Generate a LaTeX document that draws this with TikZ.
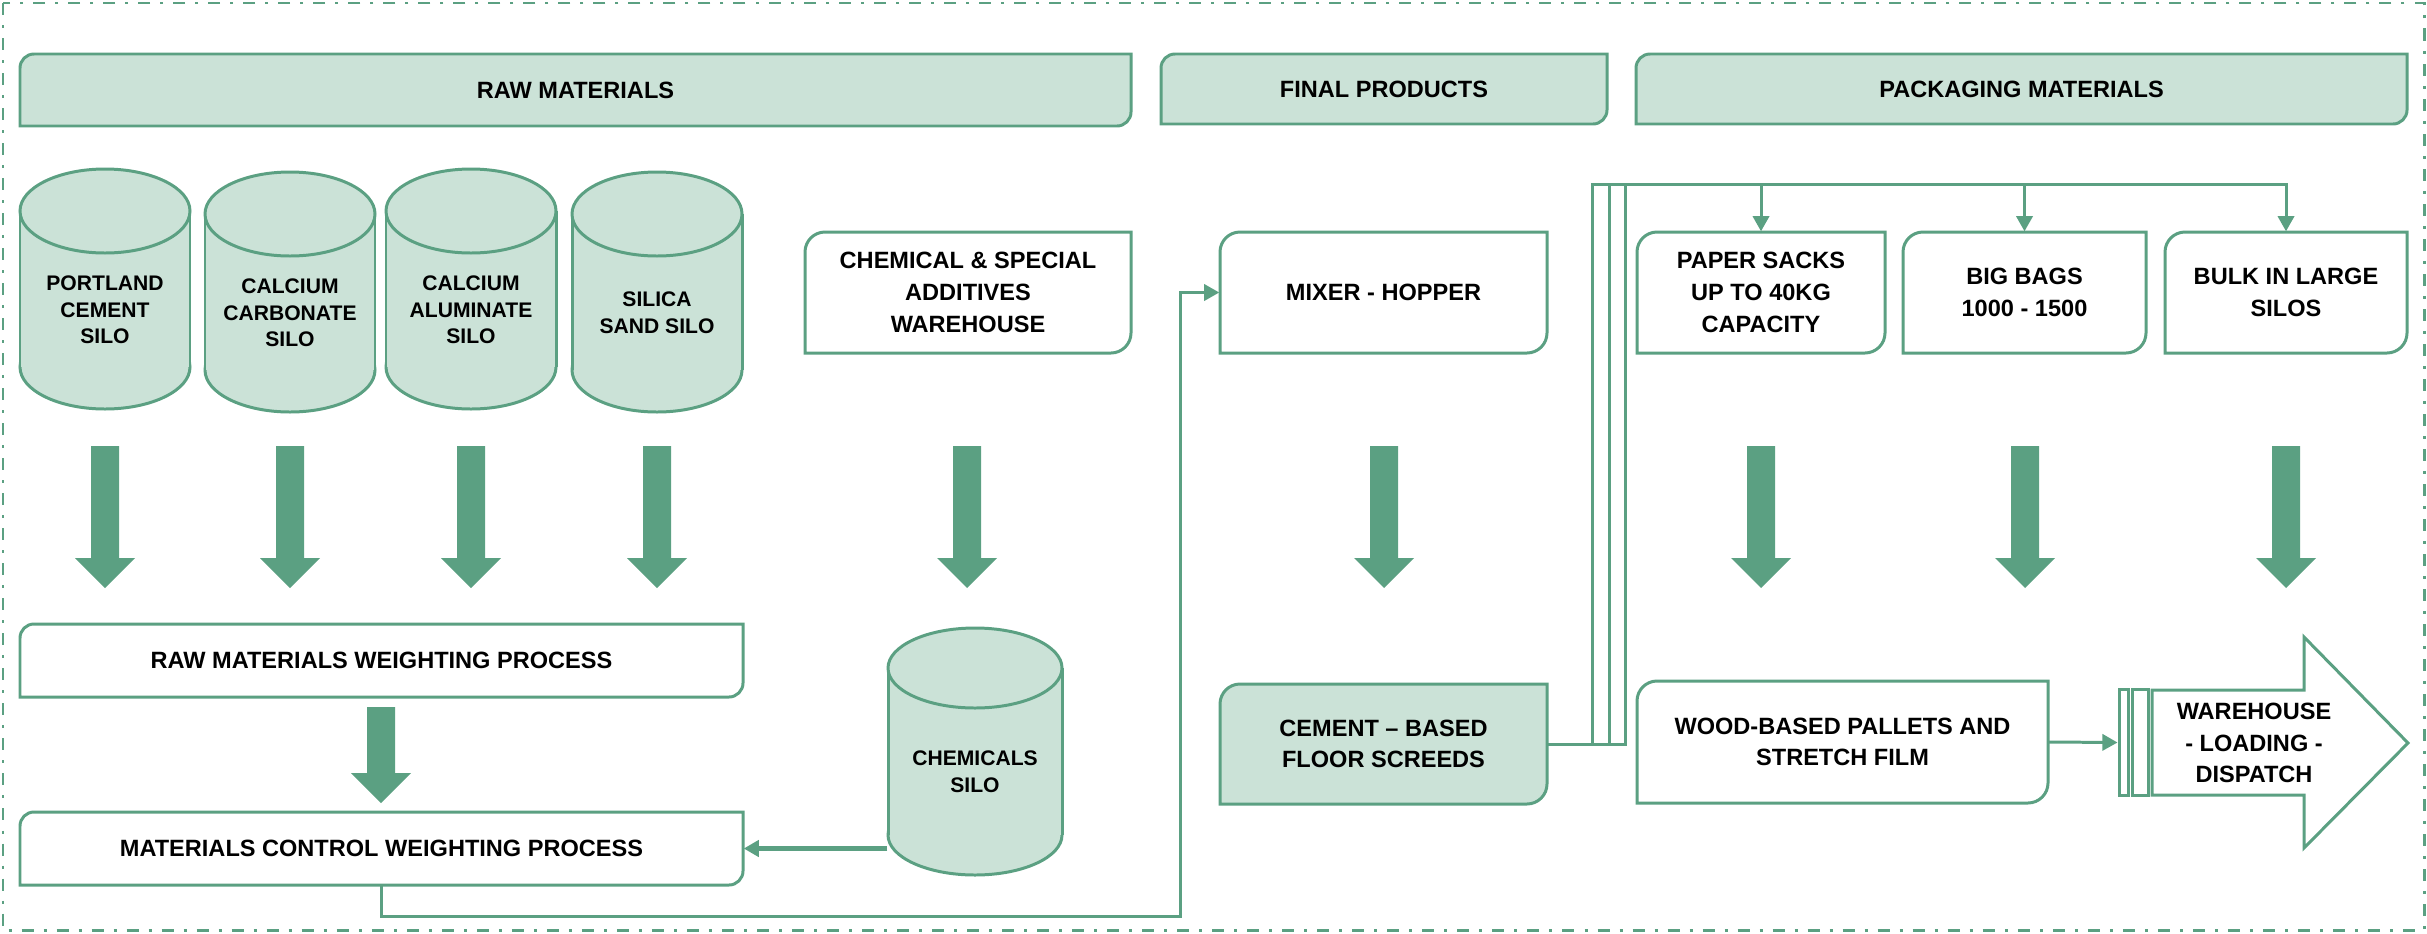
\documentclass[tikz,border=0pt]{standalone}
\usepackage{fontspec}
\setmainfont{Liberation Sans}
\usetikzlibrary{arrows.meta}
\definecolor{leaf}{HTML}{5BA082}
\definecolor{mint}{HTML}{CBE2D7}
\tikzset{
  frame/.style={draw=leaf, line width=0.85pt},
  link/.style={draw=leaf, line width=0.85pt, -{Triangle[length=4.3pt, width=4.6pt]}},
  tag/.style={font=\fontsize{6.7}{9}\selectfont\bfseries, align=center, inner sep=0pt},
  silotag/.style={tag, font=\fontsize{6}{7.6}\selectfont\bfseries},
}
% box with rounded top-left and bottom-right corners
\newcommand{\plate}[8]{%
  \draw[frame, fill=#7] (#2,#5) -- (#2,#3+#6)
    .. controls (#2,#3+0.45*#6) and (#2+0.45*#6,#3) .. (#2+#6,#3)
    -- (#4,#3) -- (#4,#5-#6)
    .. controls (#4,#5-0.45*#6) and (#4-0.45*#6,#5) .. (#4-#6,#5) -- cycle;
  \node[tag, minimum width={(#4-#2)*0.01cm}, minimum height={(#5-#3)*0.01cm}]
    (#1) at ({(#2+#4)/2},{(#3+#5)/2}) {#8};}
% upright silo
\newcommand{\silo}[7]{%
  \draw[frame, fill=mint] (#2,#4-#6) ellipse [x radius=#5, y radius=#6];
  \fill[mint] (#2-#5,#3+#6) rectangle (#2+#5,#4-#6);
  \draw[frame] (#2-#5,#3+#6) -- (#2-#5,#4-#6) (#2+#5,#3+#6) -- (#2+#5,#4-#6);
  \draw[frame, fill=mint] (#2,#3+#6) ellipse [x radius=#5, y radius=#6];
  \node[silotag, minimum width={2*#5*0.01cm}] (#1) at (#2,{(#3+#6+#4)/2}) {#7};}
% thick down arrow
\newcommand{\chute}[3]{%
  \fill[leaf] (#1-14,#2) -- (#1+14,#2) -- (#1+14,#3-30) -- (#1+30,#3-30)
    -- (#1,#3) -- (#1-30,#3-30) -- (#1-14,#3-30) -- cycle;}

\begin{document}
\begin{tikzpicture}[x=0.01cm, y=-0.01cm]
\useasboundingbox (0,0) rectangle (2427,933);
\draw[leaf, line width=0.85pt, dash pattern=on 0.12cm off 0.1cm on 0.03cm off 0.1cm]
  (3,3) rectangle (2424,930);

\plate{rawhead}{20}{54}{1131}{126}{14}{mint}{RAW MATERIALS}
\plate{finalhead}{1161}{54}{1607}{124}{14}{mint}{FINAL PRODUCTS}
\plate{packhead}{1636}{54}{2407}{124}{14}{mint}{PACKAGING MATERIALS}

\silo{cement}{105}{169}{409}{85}{42}{PORTLAND\\CEMENT\\SILO}
\silo{carbonate}{290}{172}{412}{85}{42}{CALCIUM\\CARBONATE\\SILO}
\silo{aluminate}{471}{169}{409}{85}{42}{CALCIUM\\ALUMINATE\\SILO}
\silo{silica}{657}{172}{412}{85}{42}{SILICA\\SAND SILO}
\silo{chemsilo}{975}{628}{875}{87}{40}{CHEMICALS\\SILO}

\plate{additives}{805}{232}{1131}{353}{20}{white}{CHEMICAL \& SPECIAL\\ADDITIVES\\WAREHOUSE}
\plate{mixer}{1220}{232}{1547}{353}{20}{white}{MIXER - HOPPER}
\plate{screeds}{1220}{684}{1547}{804}{20}{mint}{CEMENT -- BASED\\FLOOR SCREEDS}
\plate{sacks}{1637}{232}{1885}{353}{20}{white}{PAPER SACKS\\UP TO 40KG\\CAPACITY}
\plate{bigbag}{1903}{232}{2146}{353}{20}{white}{BIG BAGS\\1000 - 1500}
\plate{bulk}{2165}{232}{2407}{353}{20}{white}{BULK IN LARGE\\SILOS}
\plate{pallets}{1637}{681}{2048}{803}{20}{white}{WOOD-BASED PALLETS AND\\STRETCH FILM}
\plate{rawweigh}{20}{624}{743}{697}{14}{white}{RAW MATERIALS WEIGHTING PROCESS}
\plate{ctrl}{20}{812}{743}{885}{14}{white}{MATERIALS CONTROL WEIGHTING PROCESS}

% dispatch arrow
\node[frame, inner sep=0pt, minimum width=0.09cm, minimum height=1.05cm] (bar1) at (2123.5,742.5) {};
\node[frame, inner sep=0pt, minimum width=0.16cm, minimum height=1.05cm] (bar2) at (2140,742.5) {};
\draw[frame] (2152,690) -- (2304,690) -- (2304,637) -- (2408,743) -- (2304,848)
  -- (2304,795) -- (2152,795) -- cycle;
\node[tag] (dispatch) at (2254,743) {WAREHOUSE\\- LOADING -\\DISPATCH};

\foreach \cx in {105,290,471,657,967,1384,1761,2025,2286}
  \chute{\cx}{446}{588};
\chute{381}{707}{803}

\coordinate (bend) at (1180,916);
\draw[link] (ctrl.south) |- (bend) |- (mixer.west);
\draw[link, line width=1.3pt] (chemsilo.west |- ctrl.east) -- (ctrl.east);
\foreach \xx/\dest in {1592/bulk,1609/bigbag,1625/sacks}
  \draw[link] (screeds.east) -| (\xx,184) -| (\dest.north);
\draw[link] (pallets.east) -- (bar1.west);

\end{tikzpicture}
\end{document}
